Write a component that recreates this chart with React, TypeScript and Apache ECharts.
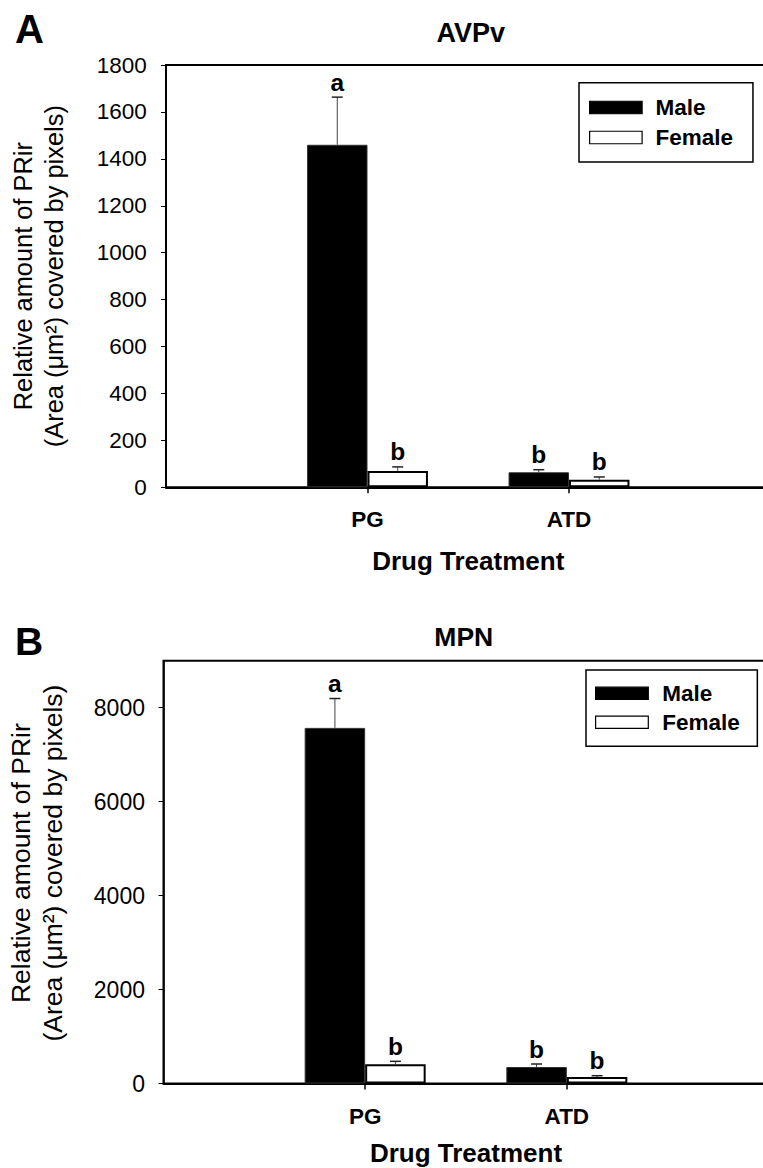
import React, { useEffect, useRef } from "react";
import * as echarts from "echarts";

// ---------- data ----------
const categories = ["PG", "ATD"];
const seriesNames = ["Male", "Female"];

// Panel A (AVPv)
const maleA = [1460, 64];
const maleErrA = [203, 11];
const femaleA = [70, 32];
const femaleErrA = [17, 12];
const maleLettersA = ["a", "b"];
const femaleLettersA = ["b", "b"];
const yTicksA = [0, 200, 400, 600, 800, 1000, 1200, 1400, 1600, 1800];

// Panel B (MPN)
const maleB = [7570, 351];
const maleErrB = [625, 64];
const femaleB = [408, 138];
const femaleErrB = [64, 28];
const maleLettersB = ["a", "b"];
const femaleLettersB = ["b", "b"];
const yTicksB = [0, 2000, 4000, 6000, 8000];
const yMaxB = 9000;

const xTitle = "Drug Treatment";
const yTitle = "Relative amount of PRir\n(Area (μm²) covered by pixels)";

// ---------- helpers ----------
const FONT = '"Liberation Sans", Arial, Helvetica, sans-serif';
const axisCats = ["", ...categories, ""];
const pad = (arr: number[]) => ["-", ...arr, "-"];

function errSeries(
  name: string,
  gi: number,
  values: number[],
  errs: number[],
  letters: string[],
  side: number
) {
  return {
    type: "custom",
    name,
    xAxisIndex: gi,
    yAxisIndex: gi,
    z: 10,
    silent: true,
    encode: { x: 0, y: 1 },
    data: values.map((v, i) => [i + 1, v, errs[i]]),
    renderItem: (params: any, api: any) => {
      const cat = api.value(0);
      const v = api.value(1);
      const e = api.value(2);
      const band = api.size([1, 0])[0];
      const base = api.coord([cat, v]);
      const top = api.coord([cat, v + e]);
      const x = base[0] + side * band * 0.15;
      const letter = letters[params.dataIndex];
      return {
        type: "group",
        children: [
          {
            type: "line",
            shape: { x1: x, y1: base[1], x2: x, y2: top[1] },
            style: { stroke: "#444", lineWidth: 1 },
          },
          {
            type: "line",
            shape: { x1: x - 5.5, y1: top[1], x2: x + 5.5, y2: top[1] },
            style: { stroke: "#222", lineWidth: 1.5 },
          },
          {
            type: "text",
            x,
            y: top[1] - 2.5,
            style: {
              text: letter,
              fill: "#000",
              font: `bold 24.5px ${FONT}`,
              align: "center",
              verticalAlign: "bottom",
            },
          },
        ],
      };
    },
  };
}

function panel(
  gi: number,
  cfg: {
    grid: any;
    yMax: number;
    yTicks: number[];
    tickFont: number;
    labelMargin: number;
    nameFont: number;
    nameGap: number;
    namePad: number[];
    xNameGap: number;
    male: number[];
    maleErr: number[];
    female: number[];
    femaleErr: number[];
    maleLetters: string[];
    femaleLetters: string[];
    legend: any;
  }
) {
  const step = cfg.yTicks[1] - cfg.yTicks[0];
  const { textGap, ...legendRest } = cfg.legend;
  return {
    grid: {
      ...cfg.grid,
      show: true,
      borderColor: "#000",
      borderWidth: 2,
      backgroundColor: "transparent",
      containLabel: false,
      outerBoundsMode: "none",
    },
    xAxis: {
      type: "category",
      gridIndex: gi,
      data: axisCats,
      boundaryGap: false,
      axisLine: { show: true, lineStyle: { color: "#000", width: 2 } },
      axisTick: {
        show: true,
        length: 6,
        interval: (i: number) => i >= 1 && i <= categories.length,
        lineStyle: { color: "#000", width: 1.5 },
      },
      axisLabel: {
        interval: 0,
        margin: 21,
        fontSize: 22.5,
        fontWeight: "bold",
        color: "#000",
        fontFamily: FONT,
      },
      splitLine: { show: false },
      name: xTitle,
      nameLocation: "middle",
      nameGap: cfg.xNameGap,
      nameTextStyle: {
        fontSize: 26,
        fontWeight: "bold",
        color: "#000",
        fontFamily: FONT,
      },
    },
    yAxis: {
      type: "value",
      gridIndex: gi,
      min: 0,
      max: cfg.yMax,
      interval: step,
      axisLine: { show: true, lineStyle: { color: "#000", width: 1.5 } },
      axisTick: {
        show: true,
        length: 5,
        customValues: cfg.yTicks,
        lineStyle: { color: "#000", width: 1 },
      },
      axisLabel: {
        customValues: cfg.yTicks,
        formatter: (v: number) => (cfg.yTicks.indexOf(v) >= 0 ? String(v) : ""),
        margin: cfg.labelMargin,
        fontSize: cfg.tickFont,
        color: "#000",
        fontFamily: FONT,
      },
      splitLine: { show: false },
      name: yTitle,
      nameLocation: "middle",
      nameRotate: 90,
      nameGap: cfg.nameGap,
      nameTextStyle: {
        fontSize: cfg.nameFont,
        lineHeight: cfg.nameFont * 1.2,
        color: "#000",
        fontFamily: FONT,
        padding: cfg.namePad,
      },
    },
    series: [
      {
        type: "bar",
        name: seriesNames[0],
        xAxisIndex: gi,
        yAxisIndex: gi,
        data: pad(cfg.male),
        barWidth: "30%",
        barGap: "0%",
        itemStyle: { color: "#000", borderColor: "#333", borderWidth: 1 },
      },
      {
        type: "bar",
        name: seriesNames[1],
        xAxisIndex: gi,
        yAxisIndex: gi,
        data: pad(cfg.female),
        barWidth: "30%",
        barGap: "0%",
        itemStyle: { color: "#fff", borderColor: "#000", borderWidth: 2 },
      },
      errSeries("err-m-" + gi, gi, cfg.male, cfg.maleErr, cfg.maleLetters, -1),
      errSeries("err-f-" + gi, gi, cfg.female, cfg.femaleErr, cfg.femaleLetters, 1),
    ],
    legend: {
      ...legendRest,
      orient: "vertical",
      data: seriesNames,
      icon: "rect",
      selectedMode: false,
      borderColor: "#000",
      borderWidth: 1.5,
      backgroundColor: "#fff",
      itemStyle: { borderColor: "#000", borderWidth: 1.2 },
      textStyle: {
        fontSize: 22.5,
        lineHeight: 22,
        fontWeight: "bold",
        color: "#000",
        fontFamily: FONT,
        padding: [0, 0, 0, textGap - 5],
      },
    },
  };
}

export default function App() {
  const ref = useRef<HTMLDivElement>(null);

  useEffect(() => {
    if (!ref.current) return;
    const chart = echarts.init(ref.current, undefined, { renderer: "svg" });

    const pA = panel(0, {
      grid: { left: 166, top: 65, right: -7.5, bottom: 680.7 },
      yMax: yTicksA[yTicksA.length - 1],
      yTicks: yTicksA,
      tickFont: 22.5,
      labelMargin: 19.3,
      nameFont: 25.4,
      nameGap: 97,
      namePad: [0, 0, 0, 0],
      xNameGap: 61,
      male: maleA,
      maleErr: maleErrA,
      female: femaleA,
      femaleErr: femaleErrA,
      maleLetters: maleLettersA,
      femaleLetters: femaleLettersA,
      legend: {
        left: 579,
        top: 82.7,
        itemWidth: 52.5,
        itemHeight: 12.5,
        itemGap: 7,
        textGap: 13.3,
        padding: [13.3, 20, 13, 10],
      },
    });

    const pB = panel(1, {
      grid: { left: 163.5, top: 660.7, right: -5.5, bottom: 84.5 },
      yMax: yMaxB,
      yTicks: yTicksB,
      tickFont: 23,
      labelMargin: 18.5,
      nameFont: 26.5,
      nameGap: 94.4,
      namePad: [0, 0, 0, 18],
      xNameGap: 56.5,
      male: maleB,
      maleErr: maleErrB,
      female: femaleB,
      femaleErr: femaleErrB,
      maleLetters: maleLettersB,
      femaleLetters: femaleLettersB,
      legend: {
        left: 586,
        top: 670,
        itemWidth: 52.7,
        itemHeight: 12.3,
        itemGap: 6,
        textGap: 14,
        padding: [11.8, 17.5, 12.5, 9],
      },
    });

    const textEl = (text: string, x: number, y: number, size: number, align: string) => ({
      type: "text",
      x,
      y,
      style: {
        text,
        fill: "#000",
        font: `bold ${size}px ${FONT}`,
        align,
        verticalAlign: "middle",
      },
    });

    chart.setOption({
      animation: false,
      backgroundColor: "#fff",
      grid: [pA.grid, pB.grid],
      xAxis: [pA.xAxis, pB.xAxis],
      yAxis: [pA.yAxis, pB.yAxis],
      legend: [pA.legend, pB.legend],
      series: [...pA.series, ...pB.series],
      graphic: [
        textEl("A", 15, 29, 40, "left"),
        textEl("AVPv", 470.8, 33.3, 27, "center"),
        textEl("B", 15, 641.7, 39, "left"),
        textEl("MPN", 463.8, 636.7, 26.5, "center"),
      ],
    });

    return () => chart.dispose();
  }, []);

  return (
    <div
      ref={ref}
      style={{ position: "absolute", left: 0, top: 0, width: 763, height: 1168 }}
    />
  );
}
